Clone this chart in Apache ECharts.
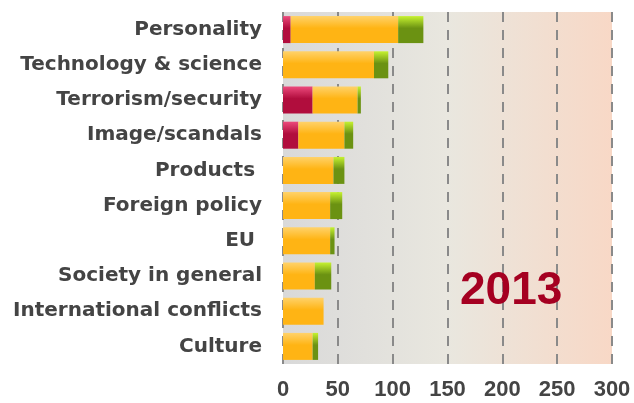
<!DOCTYPE html>
<html><head><meta charset="utf-8">
<script src="https://cdn.jsdelivr.net/npm/echarts@6/dist/echarts.min.js"></script>
<style>html,body{margin:0;padding:0;background:#fff}#c{width:634px;height:403px}</style>
</head><body><div id="c"></div>
<script>
const categories = ['Personality','Technology & science','Terrorism/security','Image/scandals','Products ','Foreign policy','EU ','Society in general','International conflicts','Culture'];
const redValues    = [7, 0, 27, 14, 0, 0, 0, 0, 0, 0];
const orangeValues = [98, 83, 41, 42, 46, 43, 43, 29, 37, 27];
const greenValues  = [23, 13, 3, 8, 10, 11, 4, 15, 0, 5];
const xTicks = [0, 50, 100, 150, 200, 250, 300];
const yearLabel = '2013';

const G = echarts.graphic.LinearGradient;
const vgrad = (a, b) => new G(0, 0, 0, 1, [{offset: 0, color: a}, {offset: 0.45, color: b}, {offset: 1, color: b}]);
const cats = categories.slice().reverse();
const rev = a => a.slice().reverse();

const chart = echarts.init(document.getElementById('c'));
chart.setOption({
  animation: false,
  grid: {
    left: 283, right: 22, top: 12, bottom: 39, show: true, borderWidth: 0,
    backgroundColor: new G(0, 0, 1, 0, [
      {offset: 0, color: '#d9d9d9'},
      {offset: 0.5, color: '#e9e7df'},
      {offset: 1, color: '#f8d8c6'}
    ])
  },
  xAxis: {
    type: 'value', min: xTicks[0], max: xTicks[xTicks.length - 1], interval: 50,
    axisLine: {show: false}, axisTick: {show: false},
    splitLine: {show: true, lineStyle: {color: '#8a8a8a', width: 2, type: [10, 8]}},
    axisLabel: {color: '#444', fontSize: 22, fontWeight: 'bold', fontFamily: 'Liberation Sans', margin: 15}
  },
  yAxis: {
    type: 'category', data: cats,
    axisLine: {show: false}, axisTick: {show: false},
    axisLabel: {color: '#444', fontSize: 20, fontWeight: 'bold', fontFamily: 'DejaVu Sans', margin: 21}
  },
  title: {
    text: yearLabel, left: 455, top: 263,
    textStyle: {color: '#a50021', fontSize: 46, fontWeight: 'bold', fontFamily: 'Liberation Sans'}
  },
  series: [
    {type: 'bar', stack: 's', barWidth: 27, data: rev(redValues), itemStyle: {color: vgrad('#ec4a7c', '#b10d3d')}},
    {type: 'bar', stack: 's', barWidth: 27, data: rev(orangeValues), itemStyle: {color: vgrad('#ffd26a', '#ffb414')}},
    {type: 'bar', stack: 's', barWidth: 27, data: rev(greenValues), itemStyle: {color: vgrad('#c6f230', '#6b9212')}}
  ]
});
</script></body></html>
